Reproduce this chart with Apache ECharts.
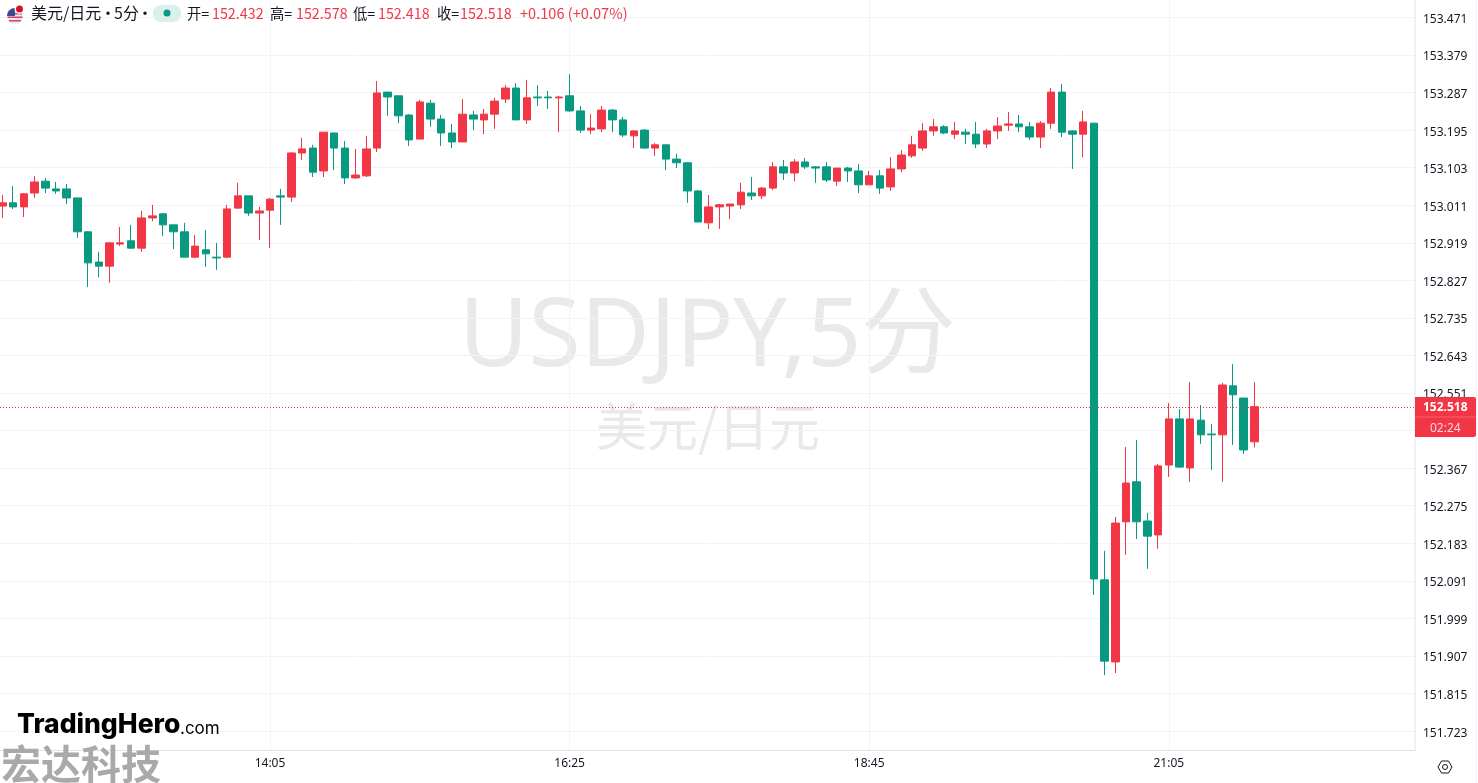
<!DOCTYPE html>
<html><head><meta charset="utf-8">
<style>html,body{margin:0;padding:0;background:#fff}#c{width:1478px;height:783px}</style>
<script src="https://cdn.jsdelivr.net/npm/echarts@6/dist/echarts.min.js"></script>
</head><body><div id="c"></div>
<script>
const opens=[153.009,153.017,153.007,153.041,153.070,153.051,153.051,153.029,152.946,152.872,152.862,152.916,152.924,152.906,152.980,152.990,152.963,152.946,152.884,152.902,152.884,152.884,153.004,153.034,152.992,152.999,153.034,153.031,153.139,153.151,153.095,153.188,153.151,153.078,153.083,153.151,153.288,153.279,153.232,153.173,153.261,153.222,153.188,153.166,153.232,153.220,153.234,153.271,153.298,153.220,153.276,153.276,153.274,153.279,153.242,153.195,153.198,153.244,153.220,153.181,153.195,153.151,153.159,153.124,153.115,153.046,152.968,153.007,153.009,153.012,153.041,153.034,153.053,153.105,153.090,153.117,153.105,153.105,153.070,153.102,153.095,153.061,153.083,153.056,153.100,153.132,153.151,153.193,153.203,153.185,153.190,153.185,153.161,153.193,153.207,153.210,153.203,153.178,153.212,153.288,153.193,153.185,153.212,152.094,151.893,152.236,152.334,152.238,152.204,152.375,152.488,152.368,152.485,152.451,152.449,152.569,152.539,152.432];
const closes=[153.017,153.007,153.039,153.068,153.053,153.046,153.029,152.946,152.870,152.862,152.919,152.919,152.906,152.980,152.985,152.963,152.946,152.884,152.911,152.892,152.882,153.002,153.034,152.992,152.997,153.026,153.031,153.139,153.149,153.092,153.190,153.151,153.078,153.085,153.149,153.286,153.276,153.230,153.171,153.264,153.222,153.188,153.166,153.234,153.222,153.234,153.266,153.298,153.220,153.274,153.274,153.274,153.276,153.242,153.195,153.200,153.244,153.220,153.183,153.193,153.151,153.159,153.124,153.115,153.046,152.970,153.007,153.012,153.014,153.043,153.034,153.053,153.105,153.090,153.117,153.105,153.102,153.073,153.102,153.095,153.061,153.083,153.053,153.100,153.134,153.159,153.193,153.203,153.188,153.193,153.185,153.161,153.193,153.205,153.210,153.203,153.178,153.212,153.288,153.190,153.185,153.215,152.096,151.895,152.233,152.331,152.236,152.201,152.373,152.488,152.370,152.488,152.449,152.449,152.571,152.547,152.412,152.518];
const lows=[152.980,153.002,152.982,153.029,153.041,153.039,153.014,152.931,152.811,152.835,152.821,152.911,152.904,152.897,152.972,152.936,152.904,152.884,152.882,152.860,152.853,152.882,153.002,152.985,152.926,152.906,152.963,153.019,153.122,153.080,153.080,153.097,153.063,153.075,153.080,153.141,153.230,153.212,153.156,153.173,153.203,153.156,153.151,153.166,153.195,153.185,153.198,153.261,153.220,153.210,153.254,153.247,153.190,153.239,153.188,153.185,153.190,153.190,153.178,153.151,153.149,153.132,153.097,153.102,153.017,152.970,152.953,152.953,152.977,153.002,153.024,153.026,153.048,153.073,153.070,153.100,153.066,153.068,153.058,153.068,153.041,153.061,153.039,153.046,153.092,153.127,153.144,153.181,153.185,153.173,153.161,153.151,153.151,153.173,153.193,153.190,153.171,153.151,153.198,153.178,153.100,153.129,152.057,151.861,151.866,152.155,152.194,152.121,152.170,152.346,152.368,152.334,152.427,152.363,152.334,152.424,152.402,152.418];
const highs=[153.036,153.058,153.041,153.083,153.078,153.068,153.063,153.029,152.948,152.897,152.919,152.958,152.963,152.997,153.012,152.992,152.963,152.968,152.938,152.950,152.919,153.012,153.066,153.034,153.007,153.029,153.051,153.141,153.176,153.159,153.190,153.188,153.168,153.149,153.181,153.315,153.288,153.279,153.234,153.269,153.269,153.232,153.210,153.271,153.242,153.247,153.274,153.305,153.310,153.318,153.305,153.291,153.279,153.332,153.254,153.234,153.254,153.247,153.227,153.195,153.198,153.163,153.159,153.137,153.117,153.048,153.036,153.014,153.014,153.066,153.080,153.056,153.117,153.122,153.124,153.127,153.107,153.117,153.102,153.105,153.112,153.095,153.097,153.129,153.146,153.181,153.212,153.222,153.207,153.215,153.198,153.215,153.198,153.227,153.239,153.232,153.215,153.217,153.298,153.308,153.195,153.242,153.212,152.165,152.248,152.419,152.436,152.258,152.378,152.527,152.512,152.578,152.522,152.476,152.576,152.622,152.539,152.578];
const slotCount=133, startMinutes=12*60, stepMinutes=5;
const timeTicks=['14:05','16:25','18:45','21:05'];
const priceMin=151.723, priceMax=153.471, priceStep=0.092;
const priceLine=152.5155;
const RED='#F23645', GREEN='#089981', TXT='#131722', GRID='#F0F3FA', FRAME='#E0E3EB';
const UI='"Noto Sans","Noto Sans CJK SC",sans-serif', CJK='"Noto Sans CJK SC","Noto Sans",sans-serif';

const categories=[];
for(let i=0;i<slotCount;i++){const m=startMinutes+i*stepMinutes;
  categories.push(String(Math.floor(m/60)).padStart(2,'0')+':'+String(m%60).padStart(2,'0'));}
const isTimeTick=(i,v)=>timeTicks.includes(v);
const candles=opens.map((o,i)=>[o,closes[i],lows[i],highs[i]]);

function txt(x,y,text,fill,size,extra){
  return {type:'text',left:x,top:y,silent:true,z:20,style:Object.assign({text:text,fill:fill,font:size+'px '+CJK,textBaseline:'top'},extra||{})};
}
const header=[
  txt(31,5,'美元/日元',TXT,16), txt(100,5,'·',TXT,16), txt(114,5,'5分',TXT,16), txt(137,5,'·',TXT,16),
  txt(187,6,'开=',TXT,14.3), txt(212,6,'152.432',RED,14.3),
  txt(270,6,'高=',TXT,14.3), txt(296,6,'152.578',RED,14.3),
  txt(353,6,'低=',TXT,14.3), txt(378,6,'152.418',RED,14.3),
  txt(437,6,'收=',TXT,14.3), txt(460,6,'152.518',RED,14.3),
  txt(520,6,'+0.106 (+0.07%)',RED,14.6)
];
const chart=echarts.init(document.getElementById('c'),null,{renderer:'canvas'});
chart.setOption({
  animation:false,backgroundColor:'#fff',
  grid:[{left:-2.85,top:0,width:1423.1,height:751,outerBoundsMode:'none'},
        {left:0,top:17.4,width:1415,height:713.7,outerBoundsMode:'none'}],
  xAxis:[{type:'category',gridIndex:0,data:categories,boundaryGap:true,
          axisLine:{show:false},axisTick:{show:false},
          axisLabel:{interval:isTimeTick,color:TXT,fontSize:12,fontFamily:UI,margin:7},
          splitLine:{show:true,interval:isTimeTick,alignWithLabel:true,lineStyle:{color:GRID,width:1}}},
         {type:'value',gridIndex:1,min:0,max:1,show:false}],
  yAxis:[{type:'value',gridIndex:0,min:151.675,max:153.5135,show:false,scale:true},
         {type:'value',gridIndex:1,position:'right',min:priceMin,max:priceMax,interval:priceStep,
          axisLine:{show:false},axisTick:{show:false},
          axisLabel:{color:TXT,fontSize:12,fontFamily:UI,margin:8,verticalAlign:'top',lineHeight:4,showMinLabel:true,showMaxLabel:true,formatter:v=>v.toFixed(3)},
          splitLine:{show:true,lineStyle:{color:GRID,width:1}}}],
  series:[
    {type:'candlestick',xAxisIndex:0,yAxisIndex:0,data:candles,barWidth:8,z:5,
     itemStyle:{color:RED,color0:GREEN,borderColor:RED,borderColor0:GREEN,borderWidth:1}},
    {type:'line',xAxisIndex:1,yAxisIndex:1,data:[[0,priceLine],[1,priceLine]],symbol:'none',z:6,silent:true,
     lineStyle:{color:RED,width:1,type:[1,2]}}
  ],
  graphic:{elements:[
    {type:'text',left:459,top:291,silent:true,z:-1,style:{text:'USDJPY,5分',fill:'#E9E9EB',font:'95px '+UI}},
    {type:'text',left:596,top:401,silent:true,z:-1,style:{text:'美元/日元',fill:'#E9E9EB',font:'51px '+CJK}},
    {type:'line',silent:true,z:9,shape:{x1:1415,y1:0,x2:1415,y2:751},style:{stroke:FRAME,lineWidth:1}},
    {type:'line',silent:true,z:9,shape:{x1:0,y1:750.5,x2:1415,y2:750.5},style:{stroke:FRAME,lineWidth:1}},
    {type:'line',silent:true,z:9,shape:{x1:1476.5,y1:0,x2:1476.5,y2:783},style:{stroke:GRID,lineWidth:1}},
    {type:'circle',silent:true,z:20,shape:{cx:15,cy:16,r:8},style:{fill:'#E8EAF0'}},
    {type:'rect',silent:true,z:21,shape:{x:8,y:13,width:14,height:1.5},style:{fill:'#D8455A'}},
    {type:'rect',silent:true,z:21,shape:{x:7.5,y:16.5,width:15,height:1.5},style:{fill:'#D8455A'}},
    {type:'rect',silent:true,z:21,shape:{x:9,y:20,width:12,height:1.5},style:{fill:'#D8455A'}},
    {type:'sector',silent:true,z:22,shape:{cx:15,cy:16,r:8,startAngle:Math.PI,endAngle:Math.PI*1.5},style:{fill:'#3B4A8C'}},
    {type:'circle',silent:true,z:23,shape:{cx:19.5,cy:9,r:5},style:{fill:'#fff'}},
    {type:'circle',silent:true,z:24,shape:{cx:19.5,cy:9,r:3.5},style:{fill:'#D5112E'}},
    {type:'rect',silent:true,z:20,shape:{x:153,y:5,width:28,height:17,r:8},style:{fill:'#D9F0EC'}},
    {type:'circle',silent:true,z:21,shape:{cx:167,cy:13,r:3.5},style:{fill:GREEN}},
    ...header,
    {type:'rect',silent:true,z:30,shape:{x:1415,y:397,width:61,height:40,r:[0,2,2,0]},style:{fill:RED}},
    {type:'line',silent:true,z:31,shape:{x1:1415,y1:417,x2:1476,y2:417},style:{stroke:'#F5616E',lineWidth:1}},
    {type:'text',silent:true,z:32,left:1423,top:402,style:{text:'152.518',fill:'#fff',font:'bold 12px '+UI}},
    {type:'text',silent:true,z:32,left:1430,top:423,style:{text:'02:24',fill:'#FCD5D9',font:'12px '+UI}},
    {type:'polygon',silent:true,z:20,shape:{points:[[1438,767],[1441.5,761],[1448.5,761],[1452,767],[1448.5,773],[1441.5,773]]},style:{fill:'none',stroke:TXT,lineWidth:1}},
    {type:'circle',silent:true,z:20,shape:{cx:1445,cy:767,r:2.5},style:{fill:'none',stroke:TXT,lineWidth:1}},
    {type:'text',silent:true,z:40,left:17,top:712,style:{text:'TradingHero',fill:'#000',font:'800 26.5px "Inter",sans-serif'}},
    {type:'text',silent:true,z:40,left:180,top:720,style:{text:'.com',fill:'#000',font:'17px "Inter",sans-serif'}},
    {type:'text',silent:true,z:40,left:1,top:744,style:{text:'宏达科技',fill:'#A9A9A9',font:'bold 40px '+CJK}}
  ]}
});
</script></body></html>
